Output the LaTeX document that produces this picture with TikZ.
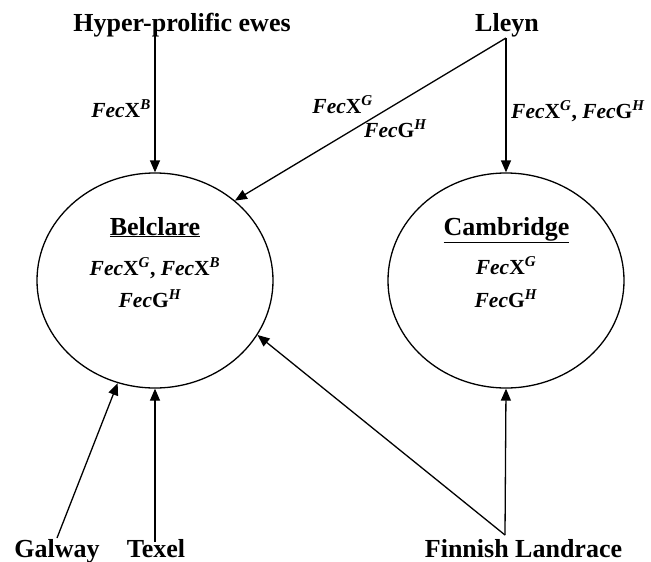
\documentclass[tikz,border=0pt]{standalone}
\usepackage{fontspec}
\setmainfont{Liberation Serif}
\usetikzlibrary{arrows.meta,shapes.geometric}
\newcommand{\bigtxt}{\fontsize{26}{30}\selectfont\bfseries}
\newcommand{\gtxt}{\fontsize{21.5}{26}\selectfont\bfseries}
\newcommand{\fecgene}[2]{\textit{Fec}#1\textsuperscript{\textit{#2}}}
\begin{document}
\begin{tikzpicture}[x=1pt,y=-1pt,
  lbl/.style={inner sep=0pt,font=\bigtxt},
  glbl/.style={inner sep=0pt,font=\gtxt},
  breed/.style={draw,ellipse,line width=1.3pt,minimum width=236pt,minimum height=215pt,inner sep=0pt},
  arr/.style={line width=1.3pt,-{Triangle[length=12pt,width=10pt]}}]
\useasboundingbox (0,0) rectangle (651,562);
% breed circles
\node[breed] (bel) at (155,280.5) {};
\node[breed] (cam) at (506,280.5) {};
% source labels
\node[lbl,anchor=base] (hyp) at (182,31) {Hyper-prolific ewes};
\node[lbl,anchor=base] (lle) at (507,31) {Lleyn};
\node[lbl,anchor=base] (gal) at (57,557) {Galway};
\node[lbl,anchor=base] (tex) at (156,557) {Texel};
\node[lbl,anchor=base] (fin) at (523.5,557) {Finnish Landrace};
% inside circles
\node[lbl,anchor=base] (belname) at (155,235) {\underline{Belclare}};
\node[glbl,anchor=base] (belg1) at (155,275) {\fecgene{X}{G}, \fecgene{X}{B}};
\node[glbl,anchor=base] (belg2) at (150,307) {\fecgene{G}{H}};
\node[lbl,anchor=base] (camname) at (506.5,235) {\underline{Cambridge}};
\node[glbl,anchor=base] (camg1) at (506,274) {\fecgene{X}{G}};
\node[glbl,anchor=base] (camg2) at (506,307) {\fecgene{G}{H}};
% connector end points
\coordinate (hypout) at (155,36);
\coordinate (lleout) at (506,38);
\coordinate (galout) at (57,538);
\coordinate (texout) at (155,542);
\coordinate (finout) at (505,535);
% connectors
\draw[arr] (hypout) -- (bel.north);
\draw[arr] (lleout) -- (cam.north);
\draw[arr] (lleout) -- (bel.45.5);
\draw[arr] (galout) -- (bel.-110);
\draw[arr] (texout) -- (bel.south);
\draw[arr] (finout) -- (bel.-28.7);
\draw[arr] (finout) -- (cam.south);
% connector labels
\node[glbl,anchor=base east] (lab1) at (151,117) {\fecgene{X}{B}};
\node[glbl,anchor=base west] (lab2) at (511,118) {\fecgene{X}{G}, \fecgene{G}{H}};
\node[glbl,anchor=base east] (lab3) at (373,113) {\fecgene{X}{G}};
\node[glbl,anchor=base west] (lab4) at (364,137) {\fecgene{G}{H}};
\end{tikzpicture}
\end{document}
